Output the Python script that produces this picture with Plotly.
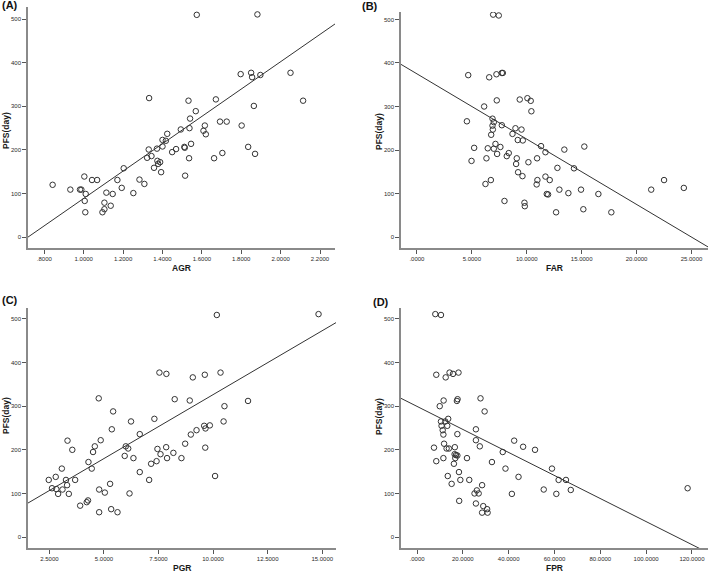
import plotly.graph_objects as go

# ---------------- data ----------------
agr = [0.842, 0.932, 0.981, 0.988, 1.003, 1.010, 1.005, 1.008, 1.042, 1.068, 1.095, 1.105, 1.105, 1.115,
       1.137, 1.147, 1.171, 1.193, 1.203, 1.252, 1.283, 1.308, 1.322, 1.332, 1.330, 1.344, 1.357, 1.372,
       1.374, 1.378, 1.388, 1.393, 1.400, 1.400, 1.417, 1.424, 1.449, 1.469, 1.493, 1.511, 1.513, 1.515,
       1.532, 1.537, 1.535, 1.540, 1.545, 1.569, 1.574, 1.608, 1.615, 1.620, 1.662, 1.671, 1.692, 1.704,
       1.726, 1.797, 1.802, 1.835, 1.850, 1.855, 1.864, 1.870, 1.882, 1.897, 2.050, 2.114]
pfs_a = [120, 109, 109, 109, 139, 99, 83, 57, 131, 131, 57, 79, 64, 102,
         72, 99, 131, 113, 158, 101, 132, 122, 182, 319, 201, 186, 159, 203,
         175, 168, 172, 149, 223, 208, 221, 237, 195, 202, 247, 207, 205, 141,
         313, 250, 181, 272, 214, 289, 510, 244, 256, 236, 181, 316, 265, 193,
         265, 374, 256, 207, 377, 367, 301, 191, 511, 372, 377, 313]

far = [4.55, 4.67, 4.97, 5.21, 6.12, 6.24, 6.33, 6.45, 6.58, 6.73, 6.76, 6.88, 6.88, 6.94, 6.91, 7.0,
       7.0, 7.15, 7.24, 7.27, 7.3, 7.45, 7.6, 7.73, 7.73, 7.82, 7.97, 8.18, 8.36, 8.7, 8.97, 9.03,
       9.09, 9.18, 9.21, 9.36, 9.52, 9.61, 9.64, 9.79, 9.82, 10.06, 10.15, 10.36, 10.42, 10.9, 10.94,
       10.97, 11.3, 11.7, 11.7, 11.82, 11.94, 12.09, 12.67, 12.79, 12.97, 13.42, 13.79, 14.3, 14.94,
       15.15, 15.24, 16.52, 17.7, 21.33, 22.5, 24.3]
pfs_b = [266, 372, 175, 205, 300, 122, 181, 204, 367, 131, 235, 272, 256, 511, 247, 264,
         203, 214, 374, 314, 191, 509, 207, 257, 377, 377, 83, 186, 193, 237, 250, 168,
         181, 223, 149, 316, 247, 140, 222, 79, 71, 319, 172, 313, 289, 121, 181,
         131, 209, 195, 139, 99, 98, 131, 57, 159, 109, 201, 101, 158, 109,
         64, 208, 99, 57, 109, 131, 113]

pgr = [2.47, 2.62, 2.79, 2.82, 2.9, 3.07, 3.1, 3.26, 3.31, 3.33, 3.39, 3.55, 3.68, 3.91, 4.21, 4.27,
       4.29, 4.44, 4.5, 4.58, 4.76, 4.78, 4.78, 4.85, 5.04, 5.28, 5.33, 5.36, 5.42, 5.62, 5.95, 6.0,
       6.11, 6.17, 6.24, 6.35, 6.64, 6.64, 7.07, 7.16, 7.31, 7.41, 7.45, 7.54, 7.59, 7.85, 7.86, 7.89,
       8.18, 8.24, 8.55, 8.72, 8.93, 8.98, 9.07, 9.24, 9.59, 9.62, 9.64, 9.65, 9.85, 10.09, 10.17,
       10.34, 10.48, 10.52, 11.6, 14.83]
pfs_c = [131, 112, 138, 110, 99, 157, 109, 131, 119, 221, 99, 200, 131, 72, 80, 84,
         172, 157, 195, 208, 318, 109, 57, 222, 102, 122, 64, 247, 288, 57, 186, 208,
         203, 100, 265, 181, 149, 236, 131, 168, 271, 174, 202, 377, 190, 206, 374, 181,
         193, 316, 181, 214, 313, 235, 366, 245, 255, 372, 205, 249, 256, 140, 509,
         377, 265, 300, 312, 511]

fpr = [7.4, 7.98, 8.4, 8.4, 9.9, 10.45, 10.45, 10.7, 11.2, 11.5, 11.5, 11.6, 11.8, 12.5, 12.3, 12.9,
       13.2, 13.4, 13.6, 13.9, 14.2, 15.1, 15.7, 16.1, 16.4, 16.5, 16.7, 17.0, 17.6, 17.6, 17.4, 17.7,
       18.1, 18.3, 18.4, 18.9, 21.8, 22.8, 25.1, 25.7, 25.7, 25.7, 26.1, 26.9, 27.4, 27.7, 28.4, 28.4,
       28.9, 29.5, 30.6, 30.8, 32.7, 37.4, 38.6, 41.4, 42.4, 44.3, 46.3, 51.5, 55.3, 58.9, 60.8, 61.8,
       65.0, 67.1, 118.1]
pfs_d = [205, 511, 174, 372, 300, 509, 265, 255, 245, 181, 235, 313, 214, 366, 265, 203,
         255, 140, 271, 203, 377, 122, 374, 168, 190, 206, 181, 188, 187, 236, 312, 316,
         377, 149, 83, 131, 181, 131, 100, 247, 222, 77, 107, 100, 208, 318, 119, 56,
         71, 288, 64, 56, 172, 195, 157, 99, 221, 138, 207, 200, 109, 157, 99, 131,
         131, 108, 112]

# fitted lines (intercept, slope)
fit_a = (-224.9, 313.7)
fit_b = (375.0, -15.0)
fit_c = (33.5, 29.3)
fit_d = (299.5, -2.64)

y_ticks = [0, 100, 200, 300, 400, 500]
y_ticktext = ["0", "100", "200", "300", "400", "500"]

agr_ticks = [0.8, 1.0, 1.2, 1.4, 1.6, 1.8, 2.0, 2.2]
agr_ticktext = [".8000", "1.0000", "1.2000", "1.4000", "1.6000", "1.8000", "2.0000", "2.2000"]
far_ticks = [0, 5, 10, 15, 20, 25]
far_ticktext = [".0000", "5.0000", "10.0000", "15.0000", "20.0000", "25.0000"]
pgr_ticks = [2.5, 5, 7.5, 10, 12.5, 15]
pgr_ticktext = ["2.5000", "5.0000", "7.5000", "10.0000", "12.5000", "15.0000"]
fpr_ticks = [0, 20, 40, 60, 80, 100, 120]
fpr_ticktext = [".0000", "20.0000", "40.0000", "60.0000", "80.0000", "100.0000", "120.0000"]

panels = [
    dict(x=agr, y=pfs_a, fit=fit_a, xr=[0.717, 2.276], yr=[-25, 528], xt=agr_ticks, xtt=agr_ticktext,
         xlabel="AGR", tag="(A)", px=(28, 335), py=(7, 248), tagpos=(0, 5), ylab_c=131),
    dict(x=far, y=pfs_b, fit=fit_b, xr=[-1.45, 26.5], yr=[-25, 517], xt=far_ticks, xtt=far_ticktext,
         xlabel="FAR", tag="(B)", px=(401, 708), py=(12, 248), tagpos=(360, 6), ylab_c=131),
    dict(x=pgr, y=pfs_c, fit=fit_c, xr=[1.52, 15.63], yr=[-25, 525], xt=pgr_ticks, xtt=pgr_ticktext,
         xlabel="PGR", tag="(C)", px=(28, 336), py=(308, 548), tagpos=(0, 300), ylab_c=416),
    dict(x=fpr, y=pfs_d, fit=fit_d, xr=[-7, 127], yr=[-25, 525], xt=fpr_ticks, xtt=fpr_ticktext,
         xlabel="FPR", tag="(D)", px=(401, 708), py=(308, 548), tagpos=(371, 302), ylab_c=416),
]

W, H = 709, 573
fig = go.Figure()
annotations = []
layout = dict(width=W, height=H, margin=dict(l=0, r=0, t=0, b=0),
              paper_bgcolor="white", plot_bgcolor="white", showlegend=False)

FONT = "Arial, Liberation Sans, sans-serif"
tick_font = dict(family=FONT, size=6, color="#2a2a2a")
title_font = dict(family=FONT, size=8.5, color="#1a1a1a")

for i, p in enumerate(panels):
    n = "" if i == 0 else str(i + 1)
    xa, ya = "x" + n, "y" + n
    fig.add_trace(go.Scatter(x=p["x"], y=p["y"], mode="markers", xaxis=xa, yaxis=ya,
                             marker=dict(symbol="circle-open", size=5.5, color="#333333",
                                         line=dict(width=1, color="#333333")),
                             hoverinfo="skip"))
    b0, b1 = p["fit"]
    lx = [p["xr"][0], p["xr"][1]]
    ly = [b0 + b1 * v for v in lx]
    fig.add_trace(go.Scatter(x=lx, y=ly, mode="lines", xaxis=xa, yaxis=ya,
                             line=dict(color="#333333", width=1), hoverinfo="skip"))
    x0, x1 = p["px"]
    ytop, ybot = p["py"]
    common = dict(showgrid=False, zeroline=False, showline=True, linecolor="#8a8a8a",
                  linewidth=1.5, ticks="outside", ticklen=4, tickcolor="#555555",
                  tickwidth=1, tickfont=tick_font)
    layout["xaxis" + n] = dict(domain=[x0 / W, x1 / W], range=p["xr"], anchor=ya,
                               tickvals=p["xt"], ticktext=p["xtt"], **common)
    layout["yaxis" + n] = dict(domain=[(H - ybot) / H, (H - ytop) / H], range=p["yr"], anchor=xa,
                               tickvals=y_ticks, ticktext=y_ticktext, **common)
    # axis titles
    annotations.append(dict(text="<b>" + p["xlabel"] + "</b>", xref="paper", yref="paper",
                            x=(x0 + x1) / 2 / W, y=(H - ybot - 20) / H, showarrow=False,
                            xanchor="center", yanchor="middle", font=title_font))
    annotations.append(dict(text="<b>PFS(day)</b>", xref="paper", yref="paper",
                            x=6 / W if i % 2 == 0 else (x0 - 22) / W, y=(H - p["ylab_c"]) / H,
                            showarrow=False, textangle=-90, xanchor="center", yanchor="middle",
                            font=title_font))
    # panel tag
    tx, ty = p["tagpos"]
    annotations.append(dict(text="<b>" + p["tag"] + "</b>", xref="paper", yref="paper",
                            x=tx / W, y=(H - ty) / H, showarrow=False, xanchor="left", yanchor="middle",
                            font=dict(family=FONT, size=11, color="#111111")))

layout["annotations"] = annotations
fig.update_layout(**layout)
fig.write_html("out.html",
               config={"displayModeBar": False},
               post_script="document.body.style.margin='0';document.body.style.padding='0';"
                           "document.body.style.overflow='hidden';")
